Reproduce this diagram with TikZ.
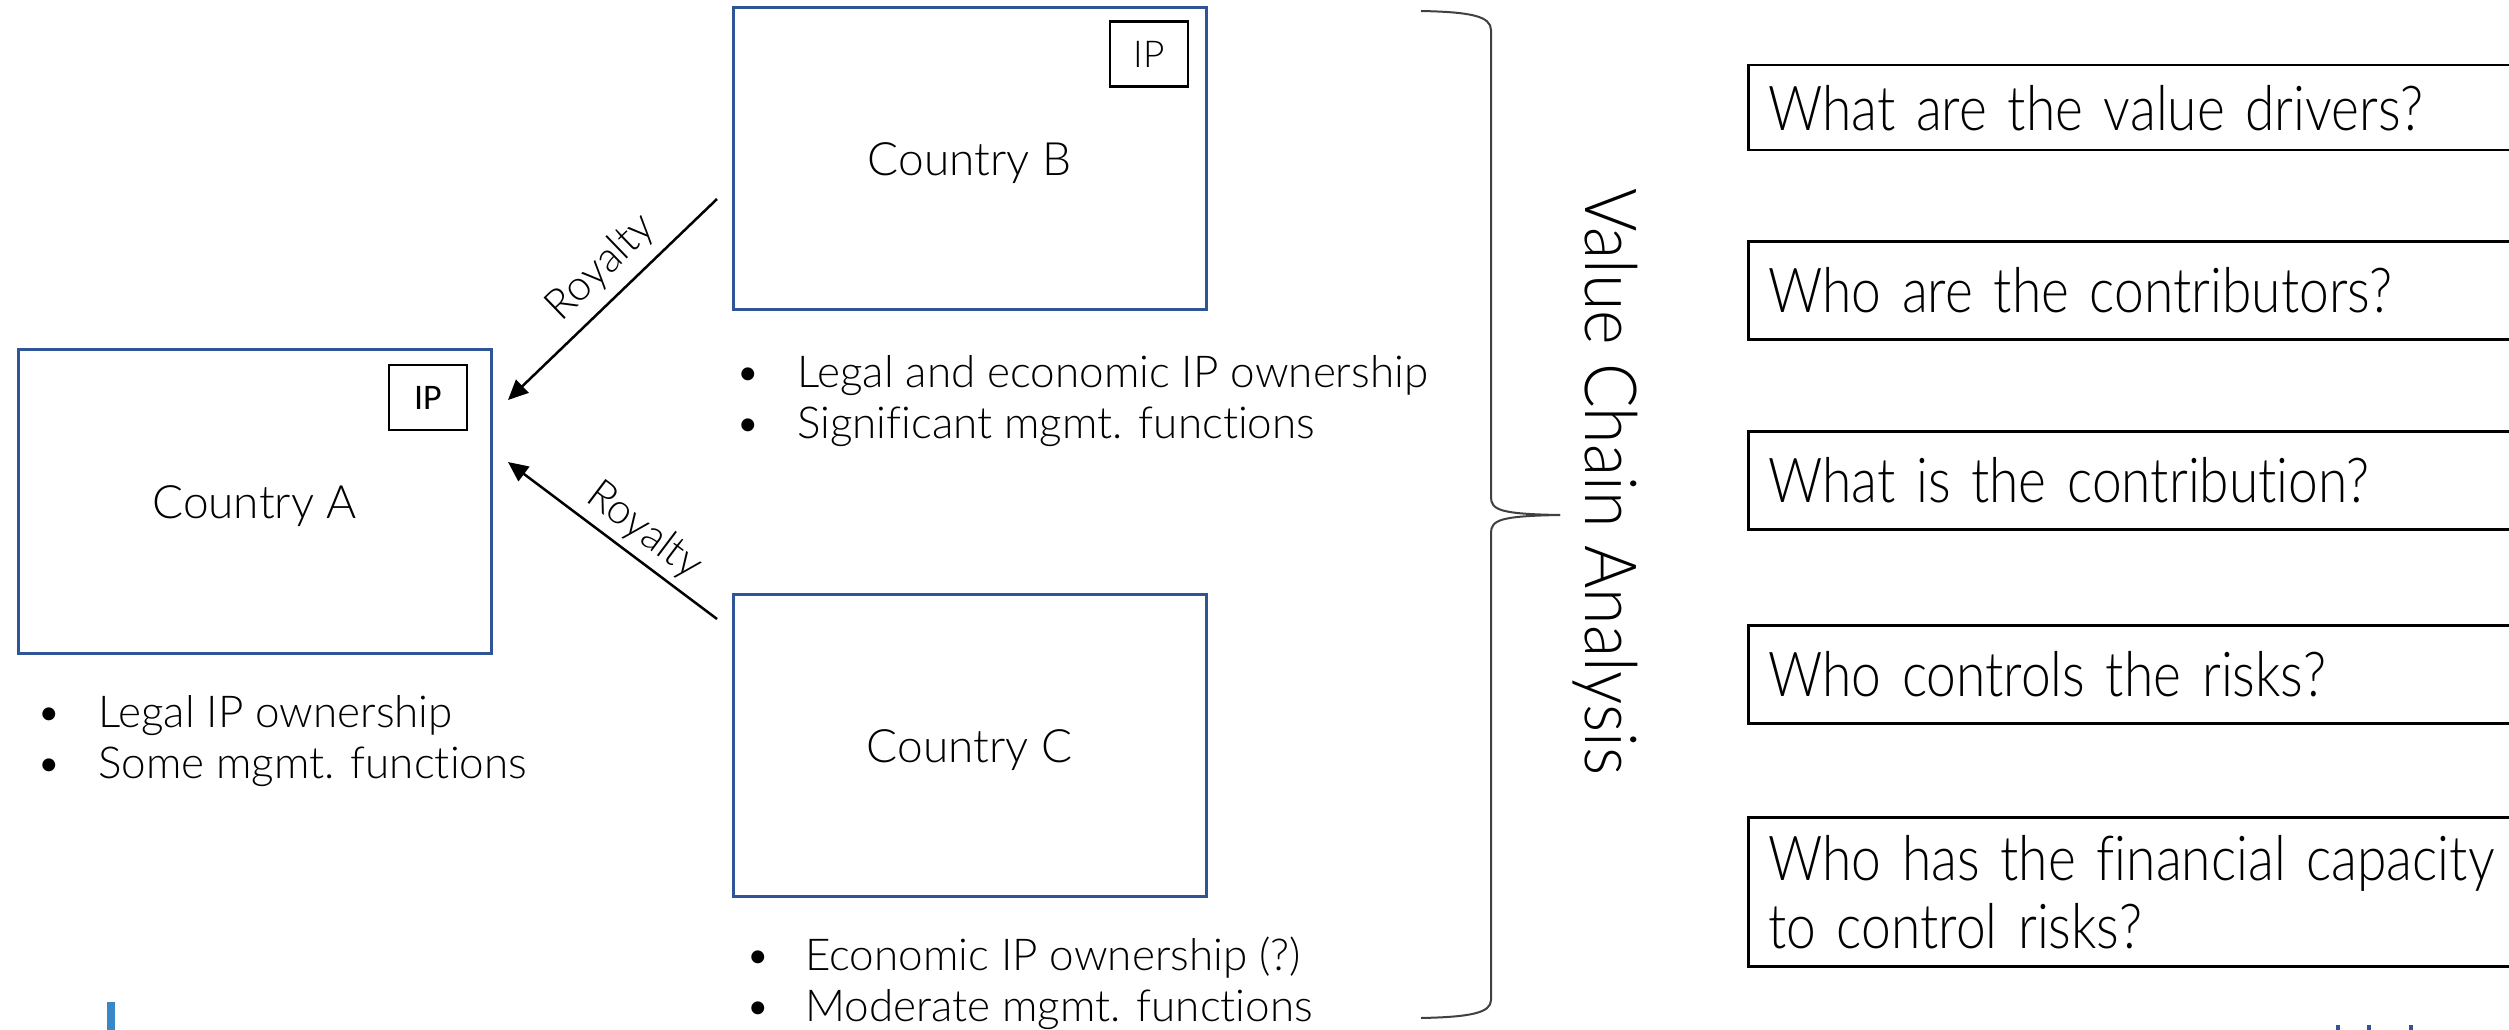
\documentclass[tikz,border=0pt]{standalone}
\usepackage{fontspec}
\setmainfont{Lato Light}[Ligatures={NoCommon,NoContextual}]
\newfontfamily\condfont{Lato Light}[FakeStretch=0.86,Ligatures={NoCommon,NoContextual}]
\newfontfamily\vcafont{Lato Light}[FakeStretch=0.92,Ligatures={NoCommon,NoContextual}]
\newfontfamily\calfont{Carlito}
\usetikzlibrary{arrows.meta}
\definecolor{boxblue}{HTML}{2F5597}
\definecolor{markblue}{HTML}{3A87C8}
\definecolor{bracegray}{HTML}{404040}
\begin{document}
\begin{tikzpicture}[x=1pt,y=-1pt,
  countrybox/.style={draw=boxblue, line width=3pt, minimum width=473pt, inner sep=0pt, font=\fontsize{46}{55}\selectfont},
  ipbox/.style={draw=black, line width=2.5pt, minimum width=78pt, minimum height=65pt, inner sep=0pt},
  qbox/.style={draw=black, line width=2.5pt, anchor=north west, minimum width=900pt, text width=860pt, align=left, inner xsep=19pt, inner ysep=0pt, font=\condfont\fontsize{62}{68}\selectfont},
  bul/.style={anchor=west, align=left, inner sep=0pt, font=\fontsize{44}{51}\selectfont},
  roy/.style={inner sep=0pt, font=\fontsize{42}{50}\selectfont},
  arr/.style={line width=2.5pt, -{Triangle[length=20pt,width=18pt]}}
]
\useasboundingbox (0,0) rectangle (2509,1030);
\clip (0,0) rectangle (2509,1030);
\fill[white] (0,0) rectangle (2509,1030);

% country boxes
\node[countrybox, minimum height=304pt] (A) at (254.5,501) {\raisebox{-7pt}[30pt][10pt]{Country A}};
\node[countrybox, minimum height=301pt] (B) at (969.5,158.5) {\raisebox{-7pt}[30pt][10pt]{Country B}};
\node[countrybox, minimum height=302pt] (C) at (969.5,745) {\raisebox{-7pt}[30pt][10pt]{Country C}};

% IP boxes
\node[ipbox, font=\calfont\fontsize{36}{40}\selectfont] (ipA) at (428,397.5) {IP};
\node[ipbox, font=\fontsize{37}{40}\selectfont] (ipB) at (1149,54) {IP};

% bullet lists
\node[bul] (lA) at (36,741) {\makebox[62pt][l]{\textbullet}Legal IP ownership\\\makebox[62pt][l]{\textbullet}Some mgmt. functions};
\node[bul] (lB) at (735,401) {\makebox[62pt][l]{\textbullet}Legal and economic IP ownership\\\makebox[62pt][l]{\textbullet}Significant mgmt. functions};
\node[bul] (lC) at (745,983) {\makebox[60pt][l]{\textbullet}Economic IP ownership (?)\\\makebox[60pt][l]{\textbullet}Moderate mgmt. functions};

% royalty arrows
\coordinate (b1) at (717,199);
\coordinate (a1) at (508,400);
\coordinate (c1) at (717,619);
\coordinate (a2) at (508,462);
\draw[arr] (b1) -- (a1);
\draw[arr] (c1) -- (a2);
\node[roy, rotate=44] (r1) at (601,268) {Royalty};
\node[roy, rotate=-37] (r2) at (644,531) {Royalty};

% brace
\draw[bracegray, line width=2pt] (1421,11) .. controls (1470,12) and (1491,16) .. (1491,30) -- (1491,497) .. controls (1491,510) and (1500,514) .. (1560,515);
\draw[bracegray, line width=2pt] (1560,515) .. controls (1500,516) and (1491,520) .. (1491,533) -- (1491,1000) .. controls (1491,1013) and (1470,1017) .. (1421,1018);
\node[rotate=-90, inner sep=0pt, font=\vcafont\fontsize{72}{76}\selectfont] (vca) at (1605,482) {Value Chain Analysis};

% question boxes
\node[qbox, minimum height=85pt] (q1) at (1747,64) {What are the value drivers?};
\node[qbox, minimum height=98pt] (q2) at (1747,240) {Who are the contributors?};
\node[qbox, minimum height=98pt] (q3) at (1747,430) {What is the contribution?};
\node[qbox, minimum height=98pt] (q4) at (1747,624) {Who controls the risks?};
\node[qbox, minimum height=149pt] (q5) at (1747,816) {Who has the financial capacity\\to control risks?};

% bottom marks
\fill[markblue] (107,1002) rectangle (115,1030);
\fill[boxblue] (2336,1025) rectangle (2340,1030);
\fill[boxblue] (2367,1025) rectangle (2371,1030);
\fill[boxblue] (2409,1025) rectangle (2413,1030);
\end{tikzpicture}
\end{document}
